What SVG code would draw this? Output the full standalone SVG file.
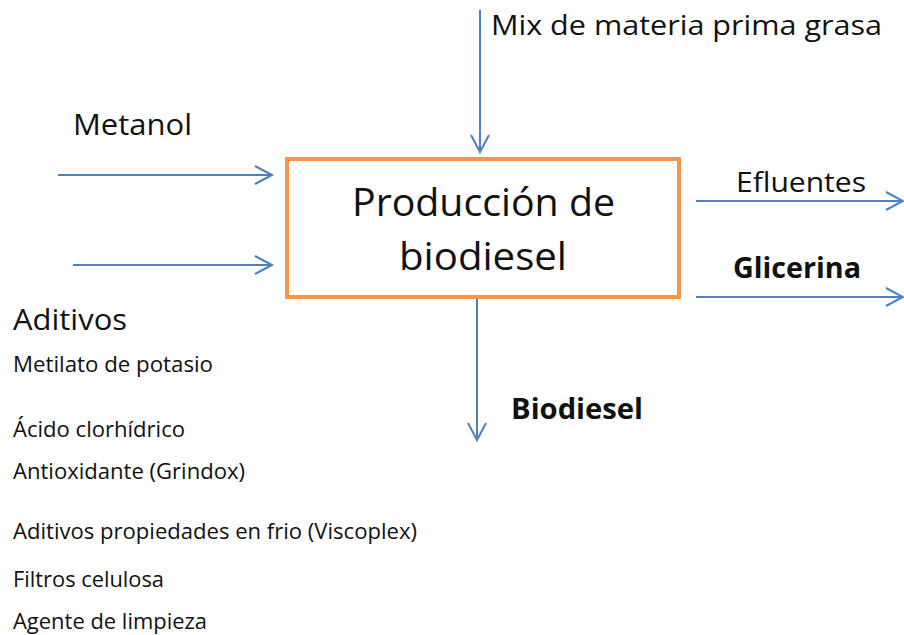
<svg xmlns="http://www.w3.org/2000/svg" width="904" height="635" viewBox="0 0 904 635">
<defs>
<style>
.t{font-family:"Open Sans","Noto Sans","Liberation Sans",sans-serif;fill:#111;}
.b{font-weight:bold;}
.c{stroke:#4F81BD;stroke-width:2;fill:none;marker-end:url(#ah);}
</style>
<marker id="ah" markerUnits="userSpaceOnUse" viewBox="-20 -12 24 24" markerWidth="24" markerHeight="24" refX="0" refY="0" orient="auto">
<path d="M-17,-9 L0,0 L-17,9" fill="none" stroke="#4F81BD" stroke-width="2"/>
</marker>
</defs>
<rect width="904" height="635" fill="#fff"/>
<g id="connectors">
<line class="c" x1="480" y1="10" x2="480" y2="152"/>
<line class="c" x1="58" y1="175" x2="272" y2="175"/>
<line class="c" x1="73" y1="265" x2="272" y2="265"/>
<line class="c" x1="696" y1="201" x2="903" y2="201"/>
<line class="c" x1="696" y1="297" x2="903" y2="297"/>
<line class="c" x1="477" y1="298" x2="477" y2="440"/>
</g>
<g id="node-produccion">
<rect x="287" y="159" width="392" height="138" fill="#fff" stroke="#F79646" stroke-width="4"/>
<text class="t" x="352" y="216" font-size="38" textLength="263" lengthAdjust="spacingAndGlyphs">Producción de</text>
<text class="t" x="399" y="270" font-size="38" textLength="168" lengthAdjust="spacingAndGlyphs">biodiesel</text>
</g>
<g id="label-mix">
<text class="t" x="491" y="35" font-size="28" textLength="391" lengthAdjust="spacingAndGlyphs">Mix de materia prima grasa</text>
</g>
<g id="label-metanol">
<text class="t" x="73" y="135" font-size="29" textLength="119" lengthAdjust="spacingAndGlyphs">Metanol</text>
</g>
<g id="label-efluentes">
<text class="t" x="736" y="192" font-size="28" textLength="130" lengthAdjust="spacingAndGlyphs">Efluentes</text>
</g>
<g id="label-glicerina">
<text class="t b" x="733" y="278" font-size="28" textLength="128" lengthAdjust="spacingAndGlyphs">Glicerina</text>
</g>
<g id="label-biodiesel">
<text class="t b" x="511" y="419" font-size="28" textLength="132" lengthAdjust="spacingAndGlyphs">Biodiesel</text>
</g>
<g id="aditivos">
<text class="t" x="13" y="330" font-size="29" textLength="114" lengthAdjust="spacingAndGlyphs">Aditivos</text>
<text class="t" x="13" y="372" font-size="21" textLength="200" lengthAdjust="spacingAndGlyphs">Metilato de potasio</text>
<text class="t" x="13" y="437" font-size="21" textLength="172" lengthAdjust="spacingAndGlyphs">Ácido clorhídrico</text>
<text class="t" x="13" y="479" font-size="21" textLength="232" lengthAdjust="spacingAndGlyphs">Antioxidante (Grindox)</text>
<text class="t" x="13" y="539" font-size="21" textLength="404" lengthAdjust="spacingAndGlyphs">Aditivos propiedades en frio (Viscoplex)</text>
<text class="t" x="13" y="587" font-size="21" textLength="151" lengthAdjust="spacingAndGlyphs">Filtros celulosa</text>
<text class="t" x="13" y="629" font-size="21" textLength="194" lengthAdjust="spacingAndGlyphs">Agente de limpieza</text>
</g>
</svg>
